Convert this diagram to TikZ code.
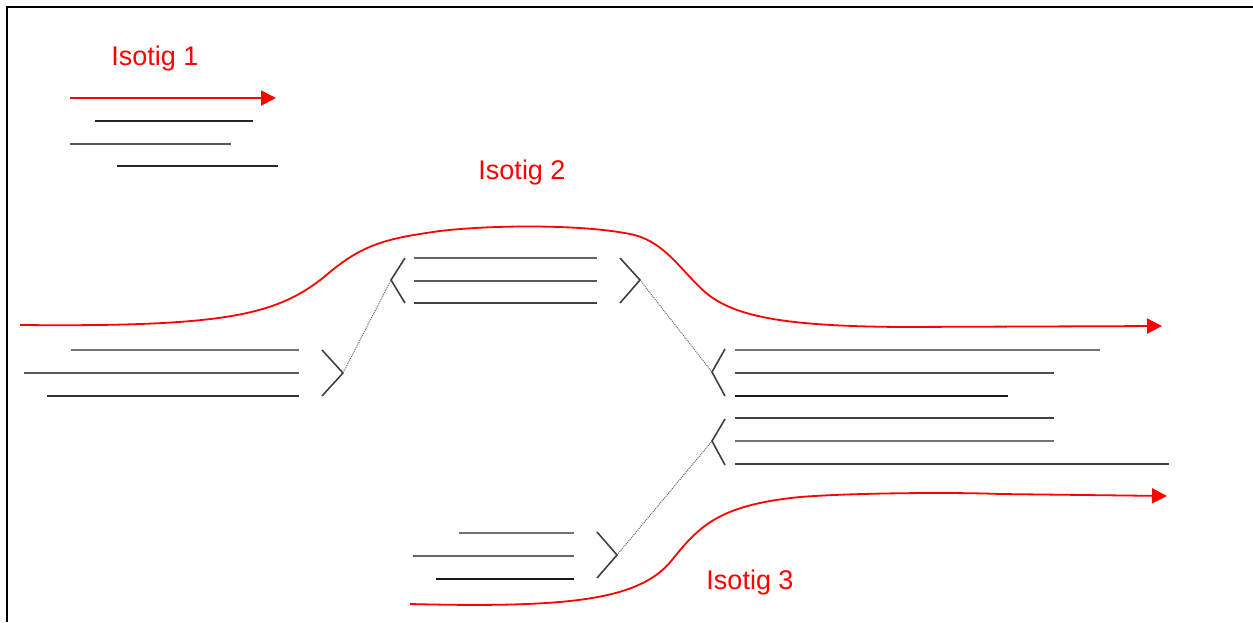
\documentclass[tikz,border=0pt]{standalone}
\usepackage{fontspec}
\setmainfont{Liberation Sans}
\usetikzlibrary{arrows.meta}

\begin{document}
\begin{tikzpicture}[x=1pt, y=-1pt,
    isotig/.style={red, line width=1.8pt, -{Triangle[length=15pt, width=15pt]}},
    isoname/.style={text=red, font=\fontsize{27}{32}\selectfont, inner sep=0pt, anchor=base},
    readline/.style={line width=2.6pt},
    joint/.style={line width=1.6pt, black!75},
    link/.style={line width=1pt, black!60, dash pattern=on 1pt off 1pt}]
  \useasboundingbox (0,0) rectangle (1253,622);
  \draw[line width=2.6pt] (7,622) -- (7,7) -- (1253,7);

  \node[isoname] (I1) at (155,65) {Isotig 1};
  \node[isoname] (I2) at (522,179) {Isotig 2};
  \node[isoname] (I3) at (750,589) {Isotig 3};

  \draw[isotig] (70,98) -- (276,98);
  \draw[readline, black!85] (95,121) -- (253,121);
  \draw[readline, black!65] (70,144) -- (231,144);
  \draw[readline, black!85] (117,166) -- (278,166);

  \draw[isotig] (20,325) .. controls (230,327) and (280,315) .. (330,272)
    .. controls (365,243) and (390,238) .. (440,231)
    .. controls (490,225) and (580,224) .. (630,234)
    .. controls (665,241) and (680,270) .. (705,292)
    .. controls (735,318) and (790,326) .. (900,327) -- (1162,326);
  \draw[isotig] (410,604) .. controls (570,608) and (640,600) .. (672,560)
    .. controls (700,525) and (720,505) .. (800,497)
    .. controls (850,493) and (950,492) .. (1000,494) -- (1167,496);

  \draw[readline, black!55] (71,350) -- (299,350);
  \draw[readline, black!65] (24,373) -- (299,373);
  \draw[readline, black!80] (47,396) -- (299,396);

  \draw[readline, black!60] (414,258) -- (597,258);
  \draw[readline, black!65] (414,281) -- (597,281);
  \draw[readline, black!75] (414,303) -- (597,303);

  \draw[readline, black!55] (735,350) -- (1100,350);
  \draw[readline, black!70] (735,373) -- (1054,373);
  \draw[readline, black!90] (735,396) -- (1008,396);

  \draw[readline, black!75] (735,418) -- (1054,418);
  \draw[readline, black!55] (735,441) -- (1054,441);
  \draw[readline, black!75] (735,464) -- (1169,464);

  \draw[readline, black!55] (459,533) -- (574,533);
  \draw[readline, black!60] (413,556) -- (574,556);
  \draw[readline, black!90] (436,579) -- (574,579);

  \coordinate (A) at (343,373);
  \coordinate (B1) at (391,280);
  \coordinate (B2) at (640,280);
  \coordinate (C) at (712,372);
  \coordinate (D) at (712,441);
  \coordinate (E) at (617,555);

  \draw[joint] (322,350) -- (A) -- (322,396);
  \draw[joint] (405,258) -- (B1) -- (405,303);
  \draw[joint] (620,258) -- (B2) -- (620,303);
  \draw[joint] (725,349) -- (C) -- (725,396);
  \draw[joint] (725,419) -- (D) -- (725,465);
  \draw[joint] (597,532) -- (E) -- (597,578);

  \draw[link] (A) -- (B1);
  \draw[link] (B2) -- (C);
  \draw[link] (E) -- (D);
\end{tikzpicture}
\end{document}
